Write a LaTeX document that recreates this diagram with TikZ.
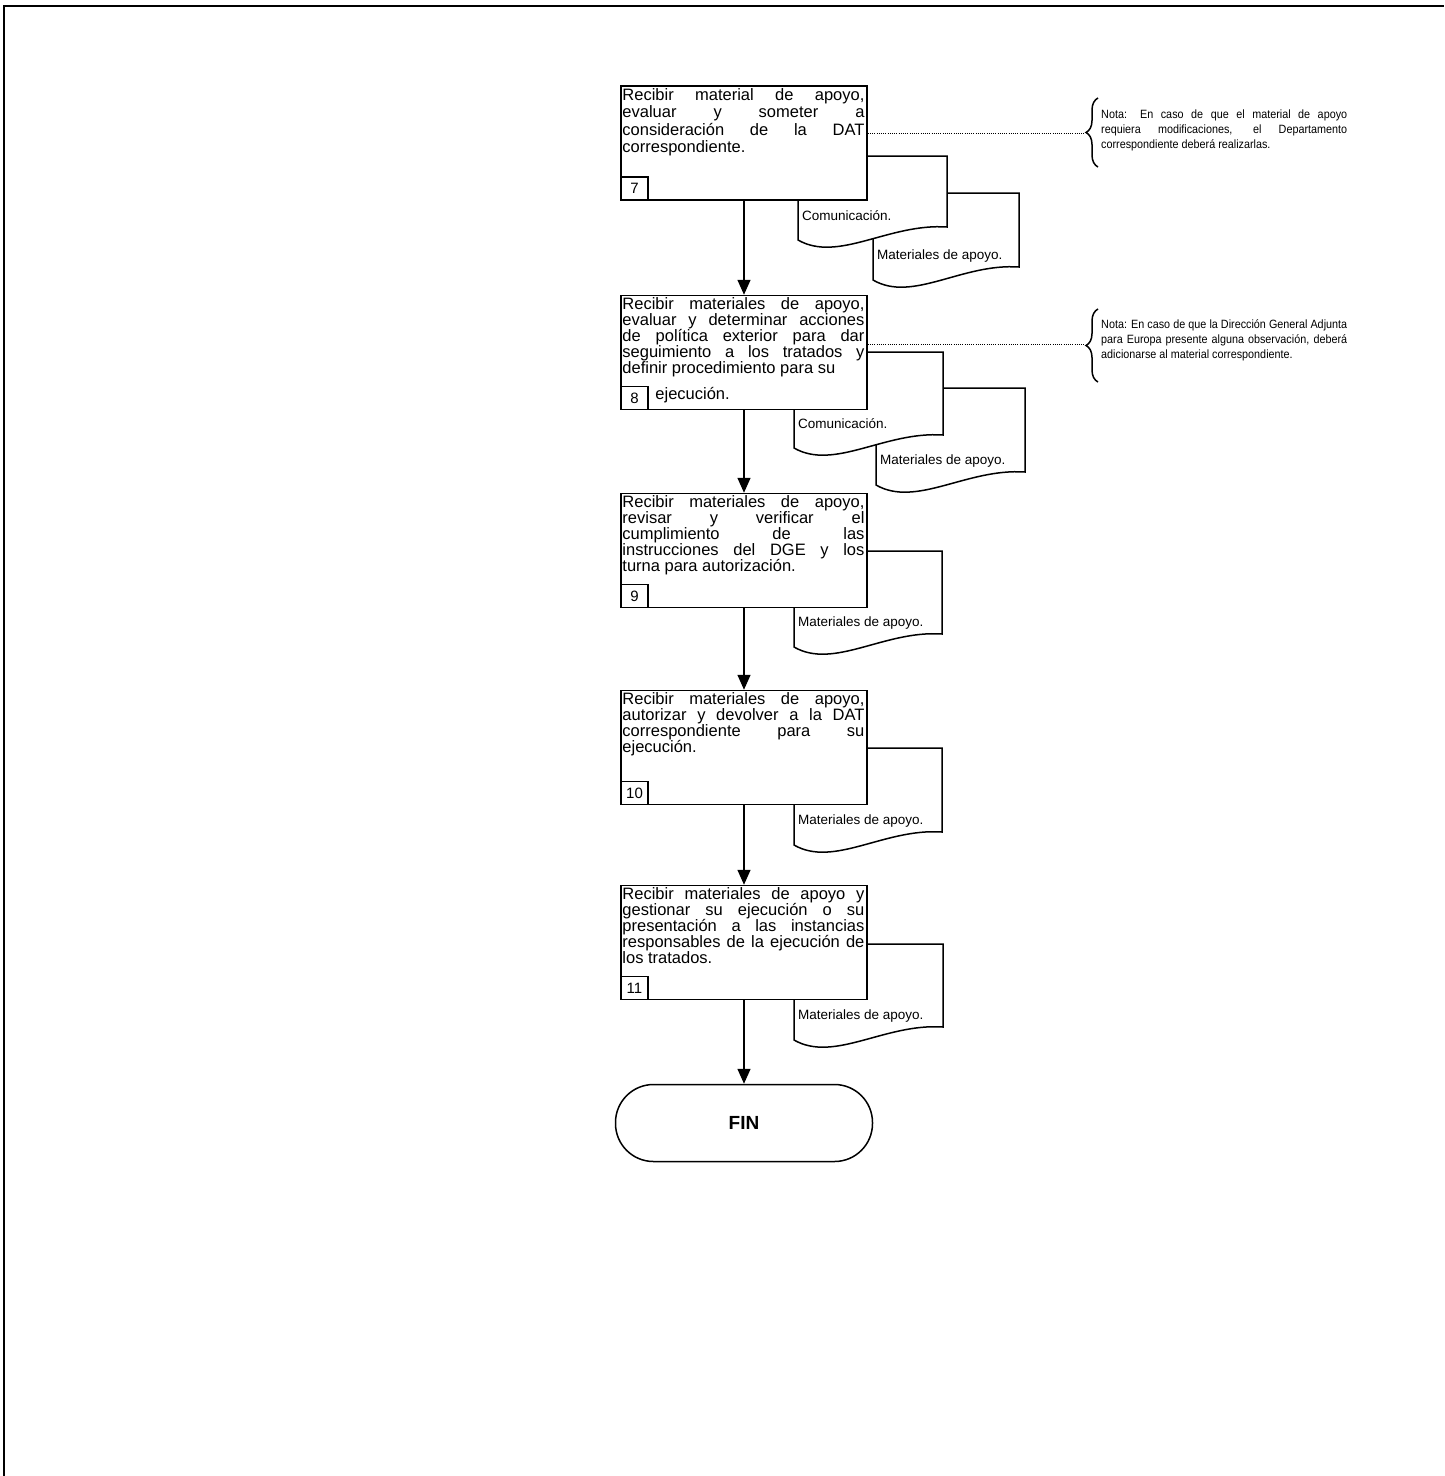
\documentclass[tikz,border=0pt]{standalone}
\usepackage{fontspec}
\setmainfont{Liberation Sans}
\newfontfamily\notafont[FakeStretch=0.9]{Liberation Sans}
\usepackage{tikz}
\usetikzlibrary{arrows.meta}
\usetikzlibrary{decorations.pathreplacing, calc}

\tikzset{
  paso/.style={draw, line width=1.5pt, fill=white, minimum width=246pt, minimum height=114pt, inner sep=0pt},
  textopaso/.style={text width=242pt, align=justify, inner xsep=2pt, inner ysep=3pt, font=\fontsize{16.5}{15.8}\selectfont},
  numero/.style={draw, line width=1.5pt, fill=white, minimum width=27pt, minimum height=23pt, inner sep=0pt, font=\fontsize{15}{16}\selectfont},
  documento/.style={draw, line width=1.5pt, fill=white},
  textodoc/.style={inner sep=1pt, font=\fontsize{13.5}{16}\selectfont},
  flecha/.style={line width=1.5pt, -{Triangle[length=15pt, width=13pt]}},
  punteado/.style={line width=1pt, dash pattern=on 1pt off 1.2pt},
  llave/.style={line width=1.5pt, decorate, decoration={brace, amplitude=12pt}},
  nota/.style={text width=246pt, align=justify, inner sep=0pt, font=\notafont\fontsize{12}{15}\selectfont},
  terminal/.style={draw, line width=1.5pt, fill=white, rounded corners=38pt, minimum width=257pt, minimum height=77pt, font=\fontsize{19}{20}\selectfont\bfseries}
}

\begin{document}
\begin{tikzpicture}[x=1pt, y=-1pt]
  \useasboundingbox (0,0) rectangle (1444,1476);
  % marco
  \draw[line width=2pt] (4,1476) -- (4,6) -- (1444,6);

  % documentos
  \foreach \nombre/\izq/\arr/\der/\alto/\texto in {
      d7b/873/193/1019/74/{Materiales de apoyo.},
      d7a/798/156/947/71/{Comunicación.},
      d8b/876/388/1025/84/{Materiales de apoyo.},
      d8a/794/352/943/83/{Comunicación.},
      d9/794/551/942/83/{Materiales de apoyo.},
      d10/794/748/942/84/{Materiales de apoyo.},
      d11/794/944/943/83/{Materiales de apoyo.}} {
    \draw[documento] (\izq,\arr) -- (\der,\arr) -- (\der,{\arr+\alto})
      .. controls ({\izq+0.61*(\der-\izq)},{\arr+\alto-4}) and ({\izq+0.27*(\der-\izq)},{\arr+\alto+36}) .. (\izq,{\arr+\alto+13}) -- cycle;
    \node[textodoc, anchor=west] (\nombre) at ({\izq+3},{\arr+\alto-11}) {\texto};
  }

  % pasos
  \node[paso] (p7) at (744,143) {};
  \node[textopaso, anchor=north west, font=\fontsize{16.5}{17.4}\selectfont] (t7) at (p7.north west) {Recibir material de apoyo,\linebreak evaluar y someter a\linebreak consideración de la DAT\linebreak correspondiente.};
  \node[numero, anchor=south west] (n7) at (p7.south west) {7};

  \node[paso] (p8) at (744,352.5) {};
  \node[textopaso, anchor=north west] (t8) at (p8.north west) {Recibir materiales de apoyo,\linebreak evaluar y determinar acciones\linebreak de política exterior para dar\linebreak seguimiento a los tratados y\linebreak definir procedimiento para su\\[11pt]\hspace*{33pt}ejecución.};
  \node[numero, anchor=south west] (n8) at (p8.south west) {8};

  \node[paso] (p9) at (744,550.5) {};
  \node[textopaso, anchor=north west] (t9) at (p9.north west) {Recibir materiales de apoyo,\linebreak revisar y verificar el\linebreak cumplimiento de las\linebreak instrucciones del DGE y los\linebreak turna para autorización.};
  \node[numero, anchor=south west] (n9) at (p9.south west) {9};

  \node[paso] (p10) at (744,747.5) {};
  \node[textopaso, anchor=north west] (t10) at (p10.north west) {Recibir materiales de apoyo,\linebreak autorizar y devolver a la DAT\linebreak correspondiente para su\linebreak ejecución.};
  \node[numero, anchor=south west] (n10) at (p10.south west) {10};

  \node[paso] (p11) at (744,942.5) {};
  \node[textopaso, anchor=north west] (t11) at (p11.north west) {Recibir materiales de apoyo y\linebreak gestionar su ejecución o su\linebreak presentación a las instancias\linebreak responsables de la ejecución de\linebreak los tratados.};
  \node[numero, anchor=south west] (n11) at (p11.south west) {11};

  \node[terminal] (fin) at (744,1123) {FIN};

  % flechas
  \foreach \a/\b in {p7/p8, p8/p9, p9/p10, p10/p11, p11/fin} {
    \draw[flecha] (\a.south) -- (\b.north);
  }

  % notas
  \coordinate (ll1) at (1085,133);
  \draw[llave] (1098,167) -- (1098,98);
  \node[nota, anchor=west] (nota1) at (1101,130) {Nota: En caso de que el material de apoyo\linebreak requiera modificaciones, el Departamento\linebreak correspondiente deberá realizarlas.};
  \draw[punteado] (p7.east |- ll1) -- (ll1);

  \coordinate (ll2) at (1085,344);
  \draw[llave] (1098,382) -- (1098,309);
  \node[nota, anchor=west] (nota2) at (1101,340) {Nota: En caso de que la Dirección General Adjunta\linebreak para Europa presente alguna observación, deberá\linebreak adicionarse al material correspondiente.};
  \draw[punteado] (p8.east |- ll2) -- (ll2);
\end{tikzpicture}
\end{document}
